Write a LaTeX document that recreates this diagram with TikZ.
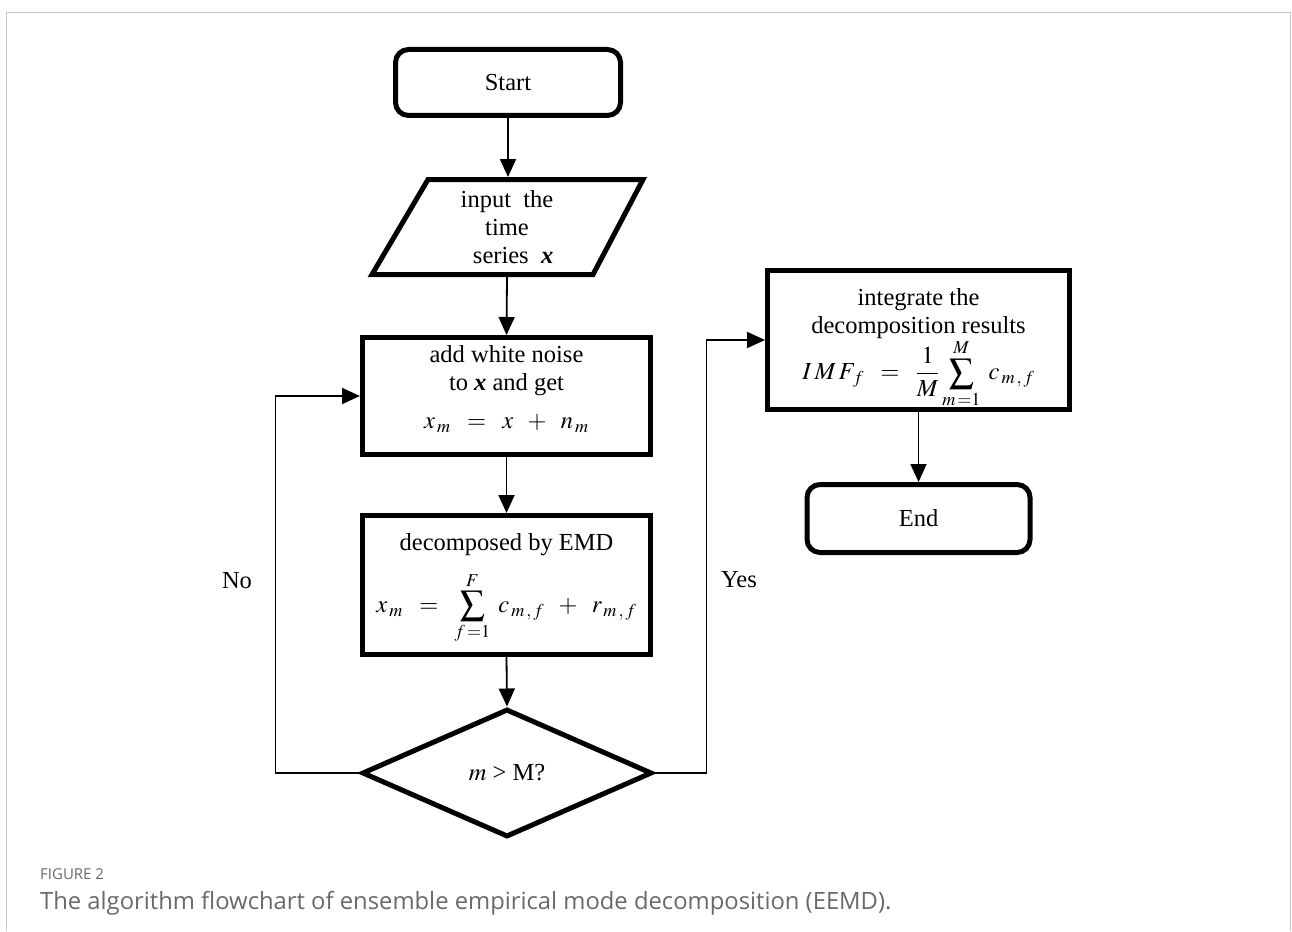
\documentclass[tikz,border=0pt]{standalone}
\usepackage{mathptmx}
\usepackage{fontspec}
\setmainfont{Liberation Serif}
\newfontfamily\capfont{Open Sans}
\usetikzlibrary{arrows.meta,shapes.geometric}
\definecolor{capgray}{RGB}{105,105,105}
\definecolor{framegray}{RGB}{200,200,200}
\newcommand\fsz{\fontsize{24.5}{28}\selectfont}
\tikzset{
  shapeline/.style={draw, line width=5, inner sep=0, align=center, font=\fsz},
  boxnode/.style={shapeline, rectangle},
  termnode/.style={shapeline, rectangle, rounded corners=13},
  arr/.style={line width=1.8, -{Triangle[length=18,width=16]}},
  lbl/.style={font=\fsz, inner sep=0},
}
\begin{document}
\begin{tikzpicture}[x=1pt,y=-1pt]
\useasboundingbox (0,0) rectangle (1292,931);
% frame
\draw[framegray, line width=1.5] (6.5,931) -- (6.5,12.5) -- (1290.5,12.5) -- (1290.5,931);

% nodes
\node[termnode, minimum width=225, minimum height=66] (start) at (508,82.5) {Start};

\node[lbl, align=center] (in) at (507,227) {input\ \ the\\time\\\ \ series\ \ \textbf{\textit{x}}};
\draw[line width=5] (428,179.5) -- (643,179.5) -- (593,274.5) -- (372,274.5) -- cycle;
\coordinate (inT) at (508,177);
\coordinate (inB) at (507,277);

\node[boxnode, minimum width=288, minimum height=117] (b1) at (506.5,396) {};
\node[lbl, align=center] (b1t) at (506.5,389)
  {add white noise\\to \textbf{\textit{x}} and get\\[10pt]$x_{\,m} \;\;=\;\; x \;\;+\;\; n_{\,m}$};

\node[boxnode, minimum width=288, minimum height=139] (b2) at (506.5,585) {};
\node[lbl, align=center] (b2t) at (506.5,589)
  {decomposed by EMD\\[15pt]$\displaystyle x_{\,m} \;\;=\;\; \sum_{f\,=1}^{F}\; c_{\,m\,,\,f} \;\;+\;\; r_{\,m\,,\,f}$};

\node[diamond, draw, line width=5, inner sep=0, minimum width=290, minimum height=128, font=\fsz] (d) at (507,773) {$m$ > M?};

\node[boxnode, minimum width=302, minimum height=139] (b3) at (918.5,340) {};
\node[lbl, align=center] (b3t) at (918.5,348)
  {integrate the\\decomposition results\\[0pt]$\displaystyle I\,M\,F_{\,f} \;\;=\;\; \frac{1}{M}\sum_{m\,=1}^{M}\; c_{\,m\,,\,f}$};

\node[termnode, minimum width=223, minimum height=68] (end) at (918.5,518.5) {End};

\node[lbl] (no) at (237,581) {No};
\node[lbl] (yes) at (739,580) {Yes};

% connectors
\draw[arr] (start.south) -- (inT);
\draw[arr] (inB) -- (b1.north);
\draw[arr] (b1.south) -- (b2.north);
\draw[arr] (b2.south) -- (d.north);
\draw[arr] (d.west) -- ++(-84,0) |- (b1.west);
\draw[arr] (d.east) -- ++(52,0) |- (b3.west);
\draw[arr] (b3.south) -- (end.north);

% caption
\node[anchor=base west, font=\capfont\fontsize{15}{18}\selectfont, text=capgray, inner sep=0] (fig) at (40,879) {FIGURE 2};
\node[anchor=base west, font=\capfont\fontsize{23.8}{27}\selectfont, text=capgray, inner sep=0] (cap) at (40,909) {The algorithm flowchart of ensemble empirical mode decomposition (EEMD).};
\end{tikzpicture}
\end{document}
